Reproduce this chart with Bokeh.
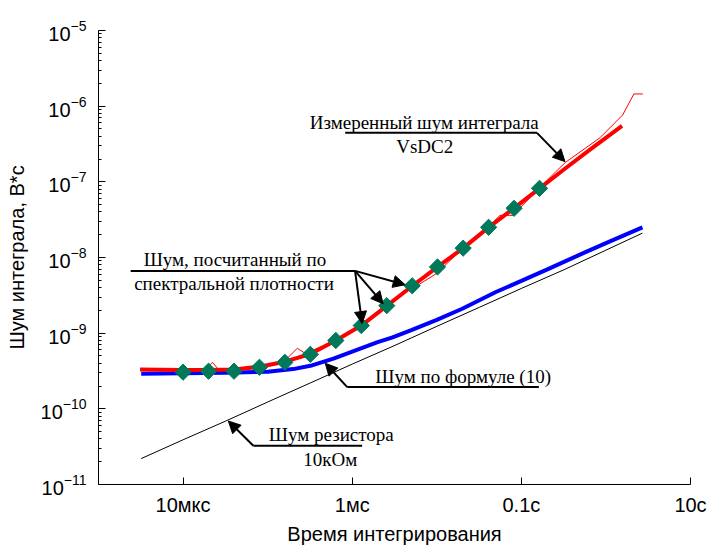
import math
from bokeh.plotting import figure
from bokeh.models import FixedTicker, CustomJSTickFormatter, Label, Arrow, NormalHead
from bokeh.embed import file_html
from bokeh.resources import INLINE

# ---------------- data ----------------
x_ticks = [1e-5, 1e-3, 1e-1, 10.0]
x_tick_labels = ["10мкс", "1мс", "0.1с", "10с"]
y_ticks = [1e-11, 1e-10, 1e-9, 1e-8, 1e-7, 1e-6, 1e-5]

# resistor noise 10 kOhm (thin black)
res_t = [3.2e-6, 1e-5, 3.2e-5, 1e-4, 3.2e-4, 1e-3, 3.2e-3, 1e-2, 3.2e-2, 1e-1, 3.2e-1, 1.0, 2.7]
res_v = [2.2e-11, 3.9e-11, 6.9e-11, 1.23e-10, 2.2e-10, 3.9e-10, 6.9e-10, 1.23e-9, 2.2e-9, 3.9e-9, 6.9e-9, 1.25e-8, 2.1e-8]

# noise by formula (10) (thick blue)
form_t = [3.2e-6, 1e-5, 3.2e-5, 1e-4, 2e-4, 3.2e-4, 6e-4, 1e-3, 2e-3, 3e-3, 5e-3, 1e-2, 2e-2, 5e-2, 1e-1, 2e-1, 5e-1, 1.0, 2.7]
form_v = [2.9e-10, 2.95e-10, 3.0e-10, 3.1e-10, 3.35e-10, 3.7e-10, 4.6e-10, 5.7e-10, 7.6e-10, 8.8e-10, 1.1e-9, 1.5e-9, 2.1e-9, 3.5e-9, 4.9e-9, 6.9e-9, 1.1e-8, 1.55e-8, 2.5e-8]

# noise computed from spectral density (thick red)
spec_t = [3.1e-6, 1e-5, 2e-5, 4e-5, 8e-5, 1.6e-4, 3.2e-4, 6.4e-4, 1.28e-3, 2.56e-3, 5.12e-3, 1.02e-2, 2.05e-2, 4.1e-2, 8.2e-2, 0.164, 0.33, 0.66, 1.55]
spec_v = [3.3e-10, 3.25e-10, 3.25e-10, 3.3e-10, 3.6e-10, 4.2e-10, 5.3e-10, 8.0e-10, 1.26e-9, 2.3e-9, 4.2e-9, 7.5e-9, 1.33e-8, 2.5e-8, 4.5e-8, 8.2e-8, 1.5e-7, 2.7e-7, 5.5e-7]

# measured integral noise VsDC2 (thin red)
meas_t = [3.13e-6, 1e-5, 1.84e-5, 2.22e-5, 2.61e-5, 7.76e-5, 1.57e-4, 2.24e-4, 2.79e-4, 6.3e-4, 1.24e-3, 2.51e-3, 3.69e-3, 5.1e-3, 9.8e-3, 1.99e-2, 3.93e-2, 5.6e-2, 7.96e-2, 0.157, 0.328, 0.849, 1.58, 2.14, 2.73]
meas_v = [3.33e-10, 3.14e-10, 3.24e-10, 4.12e-10, 3.33e-10, 3.54e-10, 4.25e-10, 6.3e-10, 5.4e-10, 8.0e-10, 1.22e-9, 2.24e-9, 3.22e-9, 3.86e-9, 6.08e-9, 1.29e-8, 2.44e-8, 3.61e-8, 3.61e-8, 7.94e-8, 1.79e-7, 3.82e-7, 7.66e-7, 1.45e-6, 1.45e-6]

# spectral-density points (green diamonds)
pts_t = [1.0e-5, 2.0e-5, 4.0e-5, 8.0e-5, 1.6e-4, 3.2e-4, 6.4e-4, 1.28e-3, 2.56e-3, 5.12e-3, 1.02e-2, 2.05e-2, 4.1e-2, 8.2e-2, 0.164]
pts_v = [3.05e-10, 3.14e-10, 3.14e-10, 3.54e-10, 4.12e-10, 5.25e-10, 8.0e-10, 1.26e-9, 2.31e-9, 4.23e-9, 7.5e-9, 1.33e-8, 2.51e-8, 4.47e-8, 8.2e-8]

# ---------------- figure ----------------
p = figure(width=711, height=547, x_axis_type="log", y_axis_type="log",
           x_range=(1e-6, 10), y_range=(1e-11, 1e-5),
           output_backend="svg", toolbar_location=None,
           min_border_left=98, min_border_right=21, min_border_top=30, min_border_bottom=59)
p.outline_line_color = None
p.grid.visible = False
p.background_fill_color = "white"
p.border_fill_color = "white"

SANS = "Liberation Sans"
SERIF = "Liberation Serif"

xa = p.xaxis[0]
xa.ticker = FixedTicker(ticks=x_ticks, minor_ticks=[])
xa.formatter = CustomJSTickFormatter(args=dict(lbls=x_tick_labels, xt=x_ticks), code="""
const i = xt.findIndex(v => Math.abs(Math.log10(v) - Math.log10(tick)) < 1e-6);
return i >= 0 ? lbls[i] : '';
""")
xa.axis_label = "Время интегрирования"

ya = p.yaxis[0]
y_minor = [m * d for d in y_ticks[:-1] for m in range(2, 10)]
ya.ticker = FixedTicker(ticks=y_ticks, minor_ticks=y_minor)
ya.axis_label = "Шум интеграла, В*с"

for ax in (xa, ya):
    ax.axis_line_color = "black"
    ax.axis_line_width = 1
    ax.major_tick_in = 7
    ax.major_tick_out = 0
    ax.minor_tick_in = 3
    ax.minor_tick_out = 0
    ax.major_tick_line_color = "black"
    ax.minor_tick_line_color = "black"
    ax.major_label_text_font = SANS
    ax.major_label_text_font_size = "20px"
    ax.major_label_text_color = "black"
    ax.axis_label_text_font = SANS
    ax.axis_label_text_font_size = "20px"
    ax.axis_label_text_font_style = "normal"
    ax.axis_label_text_color = "black"
xa.major_label_standoff = 9
xa.axis_label_standoff = 4
ya.major_label_standoff = 12
ya.axis_label_standoff = 10

# curves
p.line(res_t, res_v, line_color="black", line_width=1)
p.line(form_t, form_v, line_color="#0000FF", line_width=4)
p.line(spec_t, spec_v, line_color="#FF0000", line_width=4)
p.line(meas_t, meas_v, line_color="#FF0000", line_width=1)
p.scatter(pts_t, pts_v, marker="square", size=11.5, angle=math.pi / 4,
          fill_color="#00785A", line_color="#00785A")

# ---------------- annotations ----------------
def label(x, y, text):
    p.add_layout(Label(x=x, y=y, text=text, text_font=SERIF, text_font_size="19px",
                       text_align="center", text_baseline="middle", text_color="black"))

def arrow(x0, y0, x1, y1):
    p.add_layout(Arrow(end=NormalHead(size=12, fill_color="black", line_color="black"),
                       x_start=x0, y_start=y0, x_end=x1, y_end=y1,
                       line_color="black", line_width=2))

# measured integral noise
label(7.1e-3, 6.0e-7, "Измеренный шум интеграла")
label(7.2e-3, 2.9e-7, "VsDC2")
p.line([8.26e-4, 0.153], [4.44e-7, 4.44e-7], line_color="black", line_width=2)
arrow(0.153, 4.44e-7, 0.328, 1.85e-7)

# spectral density
label(4.1e-5, 9.5e-9, "Шум, посчитанный по")
label(4.0e-5, 4.6e-9, "спектральной плотности")
p.line([2.4e-6, 1.08e-3], [6.65e-9, 6.65e-9], line_color="black", line_width=2)
arrow(1.08e-3, 6.65e-9, 4.23e-3, 4.36e-9)
arrow(1.08e-3, 6.65e-9, 2.32e-3, 2.45e-9)
arrow(1.08e-3, 6.65e-9, 1.31e-3, 1.34e-9)

# formula (10)
label(2.05e-2, 2.7e-10, "Шум по формуле (10)")
p.line([8.73e-4, 0.161], [1.94e-10, 1.94e-10], line_color="black", line_width=2)
arrow(8.73e-4, 1.94e-10, 4.8e-4, 4.0e-10)

# resistor
label(5.65e-4, 4.54e-11, "Шум резистора")
label(5.5e-4, 2.13e-11, "10кОм")
p.line([6.78e-5, 1.31e-3], [3.25e-11, 3.25e-11], line_color="black", line_width=2)
arrow(6.78e-5, 3.25e-11, 3.43e-5, 6.9e-11)

open("out.html", "w").write(file_html(p, INLINE))
